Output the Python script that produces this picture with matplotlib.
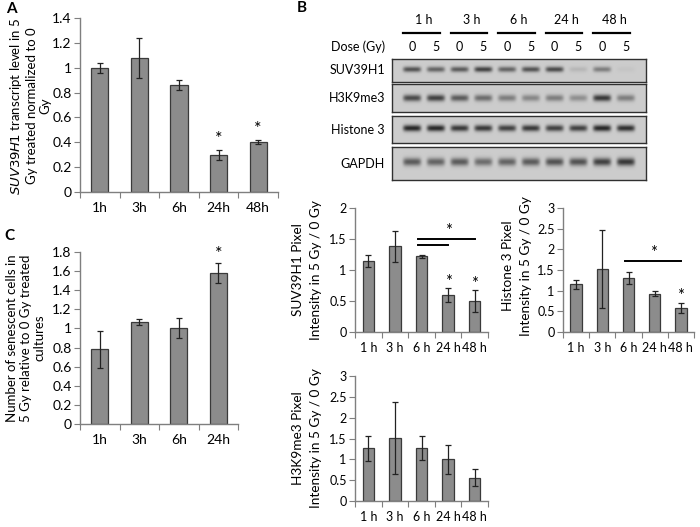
import numpy as np
import matplotlib
matplotlib.use("Agg")
from matplotlib import pyplot as plt

plt.rcParams['font.family'] = ['Lato', 'DejaVu Sans']

W, H = 700, 527

# ---- Data ----
time_a = ["1h", "3h", "6h", "24h", "48h"]
suv_mrna = [1.0, 1.08, 0.86, 0.30, 0.40]
suv_mrna_err = [0.04, 0.16, 0.04, 0.04, 0.015]
a_stars = [False, False, False, True, True]

time_c = ["1h", "3h", "6h", "24h"]
senescent = [0.78, 1.07, 1.0, 1.58]
senescent_err = [0.19, 0.03, 0.105, 0.1]
c_stars = [False, False, False, True]

time_b = ["1 h", "3 h", "6 h", "24 h", "48 h"]
suv_px = [1.15, 1.38, 1.22, 0.60, 0.50]
suv_px_err = [0.10, 0.25, 0.02, 0.11, 0.18]
suv_stars = [False, False, False, True, True]

h3_px = [1.15, 1.52, 1.30, 0.93, 0.58]
h3_px_err = [0.10, 0.95, 0.15, 0.07, 0.13]
h3_stars = [False, False, False, False, True]

k9_px = [1.27, 1.51, 1.27, 1.00, 0.56]
k9_px_err = [0.30, 0.87, 0.29, 0.34, 0.20]

# western blot band strengths (0 = none, 1 = dark), lanes 0/5 Gy per time point
blot_rows = ["SUV39H1", "H3K9me3", "Histone 3", "GAPDH"]
blot_bands = {
    "SUV39H1":   [0.70, 0.60, 0.65, 0.80, 0.60, 0.70, 0.75, 0.12, 0.45, 0.04],
    "H3K9me3":   [0.75, 0.80, 0.65, 0.55, 0.45, 0.40, 0.45, 0.35, 0.85, 0.45],
    "Histone 3": [0.95, 0.95, 0.85, 0.85, 0.80, 0.85, 0.80, 0.80, 0.95, 0.90],
    "GAPDH":     [0.65, 0.60, 0.65, 0.55, 0.60, 0.65, 0.70, 0.70, 0.80, 0.85],
}
blot_times = ["1 h", "3 h", "6 h", "24 h", "48 h"]
blot_doses = ["0", "5"]

BAR = "#8c8c8c"
SPINE = "#7f7f7f"


def px_axes(fig, x0, y0, x1, y1):
    return fig.add_axes([x0 / W, 1 - y1 / H, (x1 - x0) / W, (y1 - y0) / H])


def excel_bars(ax, labels, vals, errs, ymax, ystep, fs, width=0.43):
    n = len(labels)
    x = np.arange(n)
    ax.bar(x, vals, width=width, color=BAR, edgecolor="#3a3a3a", linewidth=0.9, zorder=2)
    ax.errorbar(x, vals, yerr=errs, fmt="none", ecolor="#222222", elinewidth=0.9,
                capsize=2.5, capthick=0.9, zorder=3)
    ax.set_xlim(-0.5, n - 0.5)
    ax.set_ylim(0, ymax)
    ax.set_yticks(np.arange(0, ymax + 1e-9, ystep))
    ax.set_yticklabels([f"{v:g}" for v in np.arange(0, ymax + 1e-9, ystep)], fontsize=fs)
    ax.set_xticks(np.arange(-0.5, n, 1.0))
    ax.set_xticklabels([])
    ax.set_xticks(x, minor=True)
    ax.set_xticklabels(labels, minor=True, fontsize=fs)
    ax.tick_params(axis="x", which="major", direction="out", length=4, color=SPINE)
    ax.tick_params(axis="x", which="minor", length=0, pad=7)
    ax.tick_params(axis="y", direction="out", length=4, color=SPINE, pad=2)
    for s in ("top", "right"):
        ax.spines[s].set_visible(False)
    for s in ("left", "bottom"):
        ax.spines[s].set_color(SPINE)
        ax.spines[s].set_linewidth(1.0)
    ax.patch.set_alpha(0)
    return x


def add_stars(ax, vals, errs, flags, gap, fs):
    for i, (v, e, f) in enumerate(zip(vals, errs, flags)):
        if f:
            ax.text(i, v + e + gap, "*", ha="center", va="center", fontsize=fs)


def two_line_label(fig, lines, xs, yc, fs):
    for s, x in zip(lines, xs):
        fig.text(x / W, 1 - yc / H, s, rotation=90, ha="center", va="center", fontsize=fs)


fig = plt.figure(figsize=(W / 100, H / 100), dpi=100)

# ---- Panel A ----
axA = px_axes(fig, 80, 18, 278, 192)
excel_bars(axA, time_a, suv_mrna, suv_mrna_err, 1.4, 0.2, 10)
add_stars(axA, suv_mrna, suv_mrna_err, a_stars, 0.09, 13)
fig.text(30 / W, 1 - 106 / H,
         r"$\it{SUV39H1}$ transcript level in 5" + "\nGy treated normalized to 0\nGy",
         rotation=90, ha="center", va="center", fontsize=9.5, linespacing=1.15)
fig.text(6 / W, 1 - 9 / H, "A", fontsize=11, fontweight="bold", ha="left", va="center")

# ---- Panel C ----
axC = px_axes(fig, 80, 252, 238, 424)
excel_bars(axC, time_c, senescent, senescent_err, 1.8, 0.2, 10)
add_stars(axC, senescent, senescent_err, c_stars, 0.1, 13)
fig.text(26 / W, 1 - 338 / H,
         "Number of senescent cells in\n5 Gy relative to 0 Gy treated\ncultures",
         rotation=90, ha="center", va="center", fontsize=9.5, linespacing=1.2)
fig.text(4 / W, 1 - 236 / H, "C", fontsize=11, fontweight="bold", ha="left", va="center")

# ---- Panel B: western blot ----
fig.text(297 / W, 1 - 8 / H, "B", fontsize=11, fontweight="bold", ha="left", va="center")
blot_x0, blot_x1 = 392, 646
row_y = [(59, 82), (84, 112), (116, 143), (147, 180)]
lane_px = np.linspace(412, 626, 10)
for name, (y0, y1) in zip(blot_rows, row_y):
    ax = px_axes(fig, blot_x0, y0, blot_x1, y1)
    nx, ny = (blot_x1 - blot_x0) * 3, (y1 - y0) * 3
    xx = np.linspace(blot_x0, blot_x1, nx)
    yy = np.linspace(0, 1, ny)[:, None]
    img = np.zeros((ny, nx))
    yc = 0.45 if name != "H3K9me3" else 0.5
    for lx, s in zip(lane_px, blot_bands[name]):
        prof_x = np.exp(-((xx - lx) / 9.0) ** 6)
        prof_y = np.exp(-((yy - yc) / 0.12) ** 2)
        img += s * prof_x[None, :] * prof_y
    img = np.clip(img, 0, 1)
    gray = 0.80 - 0.68 * img
    ax.imshow(gray, cmap="gray", vmin=0, vmax=1, aspect="auto",
              extent=(blot_x0, blot_x1, 1, 0), interpolation="bilinear")
    ax.set_xticks([])
    ax.set_yticks([])
    for s in ax.spines.values():
        s.set_color("#303030")
        s.set_linewidth(1.0)
    fig.text(385 / W, 1 - ((y0 + y1) / 2) / H, name, ha="right", va="center", fontsize=9)

fig.text(385 / W, 1 - 47 / H, "Dose (Gy)", ha="right", va="center", fontsize=9)
for i, t in enumerate(blot_times):
    l0, l1 = lane_px[2 * i], lane_px[2 * i + 1]
    cx = (l0 + l1) / 2
    fig.text(cx / W, 1 - 20 / H, t, ha="center", va="center", fontsize=9)
    fig.add_artist(plt.Line2D([(l0 - 9) / W, (l1 + 4) / W], [1 - 33 / H, 1 - 33 / H],
                              color="black", linewidth=1.6))
    for lx, d in zip((l0, l1), blot_doses):
        fig.text(lx / W, 1 - 47 / H, d, ha="center", va="center", fontsize=9)

# ---- Panel B: SUV39H1 quantification ----
axS = px_axes(fig, 355, 208, 488, 332)
excel_bars(axS, time_b, suv_px, suv_px_err, 2.0, 0.5, 9)
add_stars(axS, suv_px, suv_px_err, suv_stars, 0.09, 12)
axS.plot([1.85, 3.0], [1.40, 1.40], color="black", linewidth=1.4, clip_on=False)
axS.plot([1.85, 4.0], [1.50, 1.50], color="black", linewidth=1.4, clip_on=False)
axS.text(3.0, 1.63, "*", ha="center", va="center", fontsize=12)
two_line_label(fig, ["SUV39H1 Pixel", "Intensity in 5 Gy / 0 Gy"], [298, 316], 270, 9.8)

# ---- Panel B: Histone 3 quantification ----
axH = px_axes(fig, 563, 208, 694, 332)
excel_bars(axH, time_b, h3_px, h3_px_err, 3.0, 0.5, 9)
add_stars(axH, h3_px, h3_px_err, h3_stars, 0.15, 12)
axH.plot([1.85, 4.0], [1.71, 1.71], color="black", linewidth=1.4, clip_on=False)
axH.text(2.95, 1.92, "*", ha="center", va="center", fontsize=12)
two_line_label(fig, ["Histone 3 Pixel", "Intensity in 5 Gy / 0 Gy"], [508, 526], 266, 9.8)

# ---- Panel B: H3K9me3 quantification ----
axK = px_axes(fig, 355, 376, 488, 501)
excel_bars(axK, time_b, k9_px, k9_px_err, 3.0, 0.5, 9)
two_line_label(fig, ["H3K9me3 Pixel", "Intensity in 5 Gy / 0 Gy"], [298, 316], 438, 9.8)

fig.savefig("out.png", dpi=100)
